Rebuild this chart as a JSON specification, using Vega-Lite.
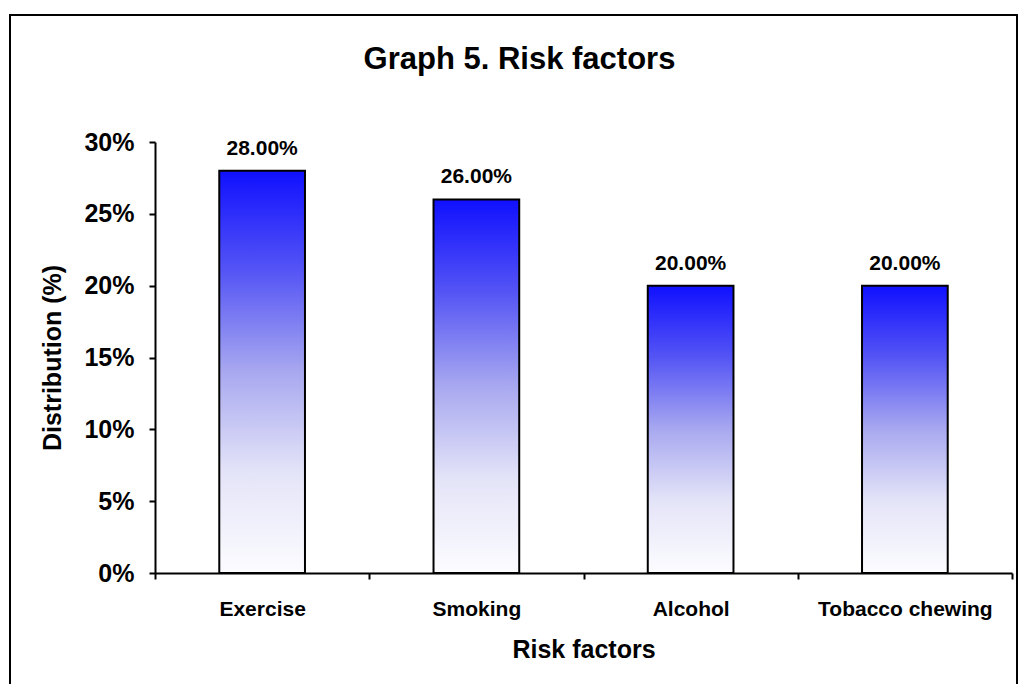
{
  "$schema": "https://vega.github.io/schema/vega-lite/v6.json",
  "autosize": "none",
  "width": 857,
  "height": 431,
  "padding": {"left": 155, "top": 142, "right": 7, "bottom": 111},
  "background": "white",
  "config": {
    "font": "Liberation Sans",
    "view": {"stroke": null},
    "axis": {
      "domainColor": "black",
      "domainWidth": 2,
      "tickColor": "black",
      "tickWidth": 2,
      "tickSize": 6,
      "labelColor": "black",
      "labelFontWeight": "bold",
      "titleColor": "black",
      "titleFontWeight": "bold",
      "titleFontSize": 25,
      "grid": false
    }
  },
  "title": {
    "text": "Graph 5. Risk factors",
    "fontSize": 31,
    "fontWeight": "bold",
    "color": "black",
    "anchor": "middle",
    "baseline": "alphabetic",
    "dx": -64,
    "dy": 30,
    "offset": -56
  },
  "layer": [
    {
      "data": {"values": [{"frame": 1}]},
      "mark": {"type": "rect", "fill": null, "stroke": "black", "strokeWidth": 2},
      "encoding": {
        "x": {"value": -145},
        "x2": {"value": 862},
        "y": {"value": -127},
        "y2": {"value": 560}
      }
    },
    {
      "data": {
        "values": [
          {"factor": "Exercise", "share": 0.28},
          {"factor": "Smoking", "share": 0.26},
          {"factor": "Alcohol", "share": 0.20},
          {"factor": "Tobacco chewing", "share": 0.20}
        ]
      },
      "encoding": {
        "x": {
          "field": "factor",
          "type": "nominal",
          "sort": null,
          "scale": {"paddingInner": 0, "paddingOuter": 0},
          "axis": {
            "title": "Risk factors",
            "labelAngle": 0,
            "labelFontSize": 21,
            "labelPadding": 19,
            "tickBand": "extent",
            "titlePadding": 18
          }
        },
        "y": {
          "field": "share",
          "type": "quantitative",
          "scale": {"domain": [0, 0.3], "nice": false},
          "axis": {
            "title": "Distribution (%)",
            "format": ".0%",
            "values": [0, 0.05, 0.1, 0.15, 0.2, 0.25, 0.3],
            "labelFontSize": 25,
            "labelPadding": 15,
            "titlePadding": 18
          }
        }
      },
      "layer": [
        {
          "mark": {
            "type": "bar",
            "width": {"band": 0.4},
            "stroke": "black",
            "strokeWidth": 2,
            "color": {
              "gradient": "linear",
              "x1": 0, "y1": 0, "x2": 0, "y2": 1,
              "stops": [
                {"offset": 0, "color": "#1010ff"},
                {"offset": 0.25, "color": "#5555f5"},
                {"offset": 0.5, "color": "#a8a8f0"},
                {"offset": 0.75, "color": "#e4e4f8"},
                {"offset": 1, "color": "#fcfcff"}
              ]
            }
          }
        },
        {
          "mark": {
            "type": "text",
            "fontSize": 21,
            "fontWeight": "bold",
            "color": "black",
            "baseline": "alphabetic",
            "dy": -16
          },
          "encoding": {
            "text": {"field": "share", "type": "quantitative", "format": ".2%"}
          }
        }
      ]
    }
  ]
}
